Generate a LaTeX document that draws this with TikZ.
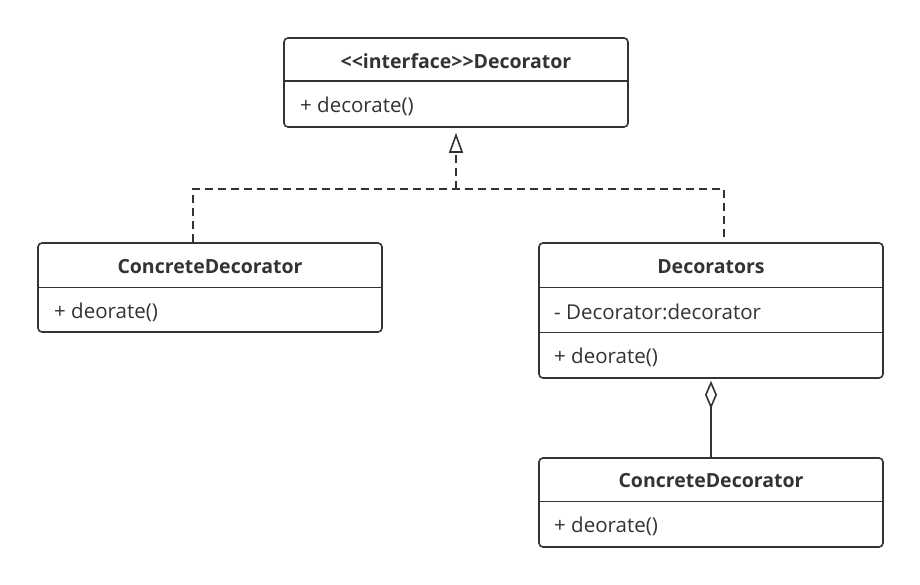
\documentclass[tikz,border=0pt]{standalone}
\usepackage{fontspec}
\setmainfont{Open Sans}
\usetikzlibrary{arrows.meta}
\definecolor{ink}{HTML}{333333}
\begin{document}
\begin{tikzpicture}[x=1pt,y=-1pt,
  box/.style={draw=ink, line width=1.6pt, rounded corners=4pt, inner sep=0pt, fill=white, minimum width=344pt},
  title/.style={font=\bfseries\fontsize{19.5}{22}\selectfont, text=ink, inner sep=0pt},
  member/.style={font=\fontsize{20.5}{23}\selectfont, text=ink, anchor=west, inner sep=0pt},
  divider/.style={draw=ink, line width=1.4pt},
  rel/.style={draw=ink, line width=1.6pt},
  dashrel/.style={rel, dash pattern=on 8pt off 5pt}]
\useasboundingbox[fill=white] (0,0) rectangle (920,585);

% boxes
\node[box, minimum height=89pt] (iface) at (456,82.5) {};
\node[box, minimum height=89pt] (cdl) at (210,287.5) {};
\node[box, minimum height=135pt] (dec) at (711,310.5) {};
\node[box, minimum height=89pt] (cdb) at (711,502.5) {};

% dividers
\draw[divider] ([yshift=-44pt]iface.north west) -- ([yshift=-44pt]iface.north east);
\draw[divider] ([yshift=-45pt]cdl.north west) -- ([yshift=-45pt]cdl.north east);
\draw[divider] ([yshift=-45pt]dec.north west) -- ([yshift=-45pt]dec.north east);
\draw[divider] ([yshift=-90pt]dec.north west) -- ([yshift=-90pt]dec.north east);
\draw[divider] ([yshift=-44pt]cdb.north west) -- ([yshift=-44pt]cdb.north east);

% texts
\node[title] (t1) at (456,61) {<{}<interface>{}>Decorator};
\node[member] (m1) at (300,106) {+ decorate()};
\node[title] (t2) at (210,267) {ConcreteDecorator};
\node[member] (m2) at (54,312) {+ deorate()};
\node[title] (t3) at (711,267) {Decorators};
\node[member] (a3) at (554,312) {- Decorator:decorator};
\node[member] (m3) at (554,357) {+ deorate()};
\node[title] (t4) at (711,481) {ConcreteDecorator};
\node[member] (m4) at (554,526) {+ deorate()};

% realization
\coordinate (j) at (456,189);
\draw[dashrel] ([xshift=-17pt]cdl.north) |- (j) -| ([xshift=13pt]dec.north);
\draw[dashrel, -{Triangle[open, length=20pt, width=14pt, line width=1.6pt]}, shorten >=5pt] (j) -- (iface.south);

% aggregation
\draw[rel, {Diamond[open, length=28pt, width=12pt, line width=1.6pt]}-, shorten <=2pt] (dec.south) -- (cdb.north);
\end{tikzpicture}
\end{document}
